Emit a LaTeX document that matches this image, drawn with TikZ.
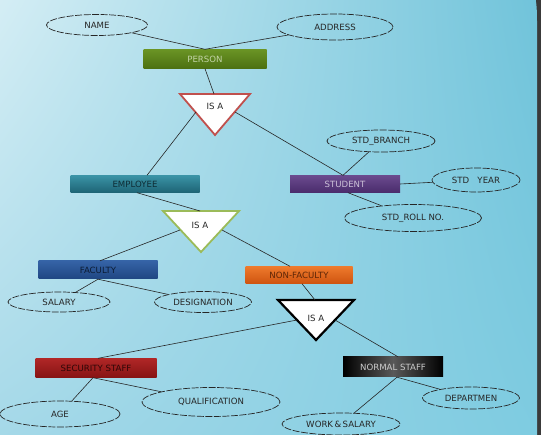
\documentclass[tikz,border=0pt]{standalone}
\usepackage{fontspec}
\setmainfont{DejaVu Sans}
\usetikzlibrary{shapes.geometric,shadings}
\definecolor{bgA}{HTML}{DAF0F6}
\definecolor{bgB}{HTML}{70C3DA}
\definecolor{bgC}{HTML}{A4D8E8}
\definecolor{bgD}{HTML}{7FCCE1}
\definecolor{frame}{HTML}{3A3A3A}
\definecolor{ink}{HTML}{262626}
\definecolor{persA}{HTML}{6A9424}
\definecolor{persB}{HTML}{4C7012}
\definecolor{empA}{HTML}{3A93A6}
\definecolor{empB}{HTML}{1E6475}
\definecolor{stuA}{HTML}{6A4A8E}
\definecolor{stuB}{HTML}{4A2C6C}
\definecolor{facA}{HTML}{3563A6}
\definecolor{facB}{HTML}{1F4682}
\definecolor{nonA}{HTML}{EE7A2C}
\definecolor{nonB}{HTML}{CF5410}
\definecolor{secA}{HTML}{B02626}
\definecolor{secB}{HTML}{861414}
\definecolor{triR}{HTML}{C0504D}
\definecolor{triG}{HTML}{9BBB59}
\tikzset{
  attr/.style={ellipse, draw=ink, dash pattern=on 7pt off 1.5pt, line width=0.7pt,
    inner sep=0pt, font=\fontsize{8.6}{9}\selectfont, text=ink},
  ent/.style={rectangle, inner sep=0pt, font=\fontsize{8.6}{9}\selectfont},
  link/.style={draw=ink, line width=0.6pt},
  isa/.style={fill=white, line width=1.8pt, line join=miter},
  isalabel/.style={font=\fontsize{8.6}{9}\selectfont, text=ink, inner sep=0pt}
}
\begin{document}
\begin{tikzpicture}[x=1pt,y=-1pt]
\useasboundingbox (0,0) rectangle (541,435);
\fill[frame] (0,0) rectangle (541,435);
\begin{scope}
\clip (0,0) rectangle (541,435);
\shade[upper left=bgA, upper right=bgB, lower left=bgC, lower right=bgD]
  (-20,-20) -- (512,-20) .. controls (537,-20) and (537,0) .. (537,25) -- (537,455) -- (-20,455) -- cycle;
\end{scope}

% attributes
\node[attr, minimum width=101pt, minimum height=21pt] (name) at (97,25) {NAME};
\node[attr, minimum width=116pt, minimum height=26pt] (address) at (335,27) {ADDRESS};
\node[attr, minimum width=108pt, minimum height=22pt] (branch) at (381,141) {STD\_BRANCH};
\node[attr, minimum width=88pt, minimum height=24pt] (year) at (476,180) {STD~~~YEAR};
\node[attr, minimum width=137pt, minimum height=27pt] (roll) at (413,218) {STD\_ROLL NO.};
\node[attr, minimum width=102pt, minimum height=20pt] (salary) at (59,302) {SALARY};
\node[attr, minimum width=97pt, minimum height=21pt] (desig) at (203,302) {DESIGNATION};
\node[attr, minimum width=120pt, minimum height=26pt] (age) at (60,414) {AGE};
\node[attr, minimum width=138pt, minimum height=29pt] (qual) at (211,402) {QUALIFICATION};
\node[attr, minimum width=118pt, minimum height=22pt] (work) at (341,424) {WORK\,\&\,SALARY};
\node[attr, minimum width=97pt, minimum height=22pt] (dept) at (471,398) {DEPARTMEN};

% entities
\node[ent, minimum width=123pt, minimum height=19pt, top color=persA, bottom color=persB, text=persA!40!white] (person) at (205,59) {PERSON};
\node[ent, minimum width=129pt, minimum height=17pt, top color=empA, bottom color=empB, text=empB!45!black] (employee) at (135,184) {EMPLOYEE};
\node[ent, minimum width=110pt, minimum height=17pt, top color=stuA, bottom color=stuB, text=stuA!35!white] (student) at (345,184) {STUDENT};
\node[ent, minimum width=119pt, minimum height=18pt, top color=facA, bottom color=facB, text=facB!40!black] (faculty) at (98,270) {FACULTY};
\node[ent, minimum width=107pt, minimum height=17pt, top color=nonA, bottom color=nonB, text=nonB!45!black] (nonfac) at (299,275) {NON-FACULTY};
\node[ent, minimum width=121pt, minimum height=19pt, top color=secA, bottom color=secB, text=secB!35!black] (security) at (96,368) {SECURITY STAFF};
\node[ent, minimum width=100pt, minimum height=20pt, left color=black, right color=black, middle color=black!65!white, text=black!20!white] (normal) at (393,367) {NORMAL STAFF};

% ISA triangles
\draw[isa, draw=triR] (180,94) -- (250,94) -- (215,135) -- cycle;
\node[isalabel] (isa1) at (215,106) {IS A};
\coordinate (t1top) at (214,94);
\coordinate (t1l) at (196,112);
\coordinate (t1r) at (235,112);

\draw[isa, draw=triG] (163,211) -- (239,211) -- (201,252) -- cycle;
\node[isalabel] (isa2) at (200,225) {IS A};
\coordinate (t2top) at (200,211);
\coordinate (t2l) at (180,230);
\coordinate (t2r) at (222,230);

\draw[isa, draw=black, line width=2.2pt] (278,300) -- (354,300) -- (316,340) -- cycle;
\node[isalabel] (isa3) at (316,318) {IS A};
\coordinate (t3top) at (315,300);
\coordinate (t3l) at (297,320);
\coordinate (t3r) at (335,320);

% connectors
\draw[link] (name) -- (person.north);
\draw[link] (address) -- (person.north);
\draw[link] (person.south) -- (t1top);
\draw[link] (t1l) -- ([xshift=12pt]employee.north);
\draw[link] (t1r) -- ([xshift=-2pt]student.north);
\draw[link] (branch) -- ([xshift=-2pt]student.north);
\draw[link] (student.east) -- (year);
\draw[link] ([xshift=3pt]student.south) -- (roll);
\draw[link] ([xshift=2pt]employee.south) -- (t2top);
\draw[link] (t2l) -- ([xshift=2pt]faculty.north);
\draw[link] (t2r) -- ([xshift=-9pt]nonfac.north);
\draw[link] (faculty.south) -- (salary);
\draw[link] (faculty.south) -- (desig);
\draw[link] ([xshift=3pt]nonfac.south) -- (t3top);
\draw[link] (t3l) -- ([xshift=2pt]security.north);
\draw[link] (t3r) -- ([xshift=5pt]normal.north);
\draw[link] ([xshift=-3pt]security.south) -- (age);
\draw[link] ([xshift=-3pt]security.south) -- (qual);
\draw[link] ([xshift=4pt]normal.south) -- (work);
\draw[link] ([xshift=4pt]normal.south) -- (dept);
\end{tikzpicture}
\end{document}
